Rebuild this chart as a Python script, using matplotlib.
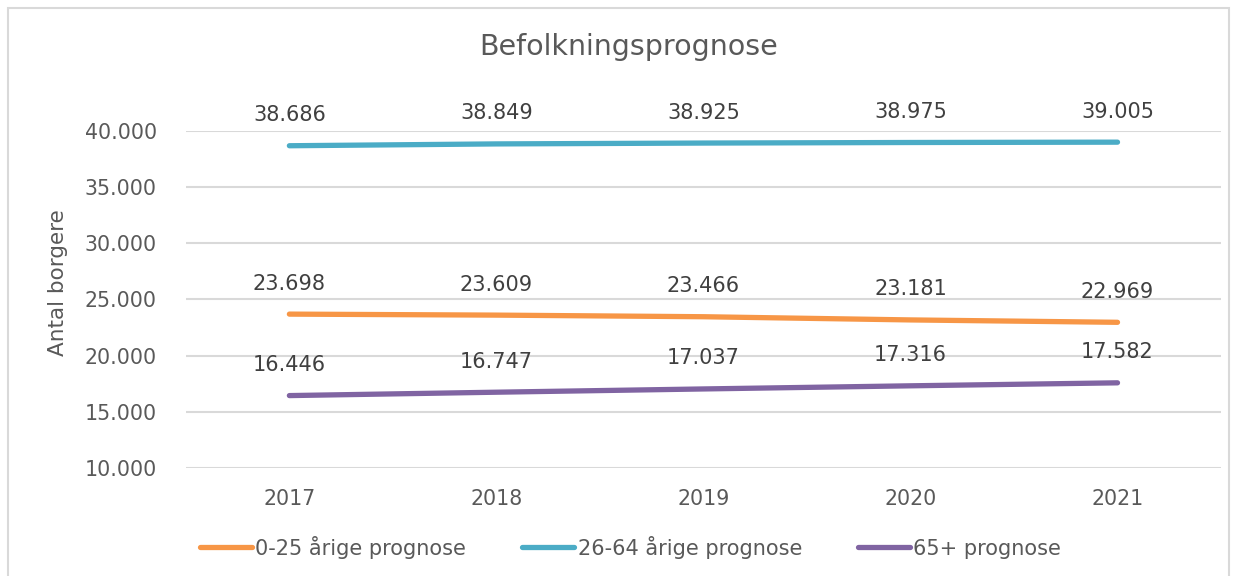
import matplotlib.pyplot as plt
from matplotlib.patches import Rectangle

# Data
years = ['2017', '2018', '2019', '2020', '2021']
young = [23698, 23609, 23466, 23181, 22969]
adults = [38686, 38849, 38925, 38975, 39005]
seniors = [16446, 16747, 17037, 17316, 17582]

series = [
    ('0-25 årige prognose', young, '#F79646'),
    ('26-64 årige prognose', adults, '#4BACC6'),
    ('65+ prognose', seniors, '#8064A2'),
]

text_col = '#595959'
plt.rcParams['font.family'] = 'DejaVu Sans'

fig = plt.figure(figsize=(12.39, 5.76), dpi=100)
ax = fig.add_axes([0.150, 0.1875, 0.8355, 0.5851])

x = list(range(len(years)))
for name, vals, col in series:
    ax.plot(x, vals, color=col, lw=3.8, solid_capstyle='round', label=name)
    for xi, v in zip(x, vals):
        lbl = f'{v:,}'.replace(',', '.')
        ax.annotate(lbl, (xi, v), xytext=(0, 22), textcoords='offset points',
                    ha='center', va='center', fontsize=15, color='#404040')

ax.set_xlim(-0.5, len(years) - 0.5)
ax.set_ylim(10000, 40000)
ax.set_yticks(range(10000, 40001, 5000))
ax.set_yticklabels([f'{v:,}'.replace(',', '.') for v in range(10000, 40001, 5000)])
ax.set_xticks(x)
ax.set_xticklabels(years)
ax.tick_params(axis='both', length=0, labelsize=14.8, labelcolor=text_col)
ax.tick_params(axis='y', pad=21)
ax.tick_params(axis='x', pad=15)
ax.grid(axis='y', color='#D9D9D9', lw=1.5)
ax.set_axisbelow(True)
for s in ax.spines.values():
    s.set_visible(False)

ax.set_ylabel('Antal borgere', fontsize=15.5, color=text_col)
ax.yaxis.set_label_coords(-0.114, 0.549)
fig.text(0.507, 0.918, 'Befolkningsprognose', ha='center', va='center',
         fontsize=20.5, color=text_col)

leg = fig.legend(loc='center', bbox_to_anchor=(0.509, 0.05), ncol=3, frameon=False,
                 fontsize=15, handlelength=2.5, handletextpad=0.15, columnspacing=2.7)
for t in leg.get_texts():
    t.set_color(text_col)

# outer chart border
fig.patches.append(Rectangle((8 / 1239, -0.01), 1221 / 1239, 0.996, transform=fig.transFigure,
                             fill=False, edgecolor='#D9D9D9', lw=1.5))

fig.savefig('out.png', dpi=100)
